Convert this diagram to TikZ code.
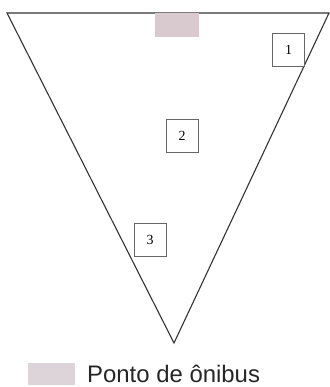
\documentclass[tikz,border=0pt]{standalone}
\usepackage{fontspec}
\setmainfont{Liberation Serif}
\newfontfamily\legendfont{Liberation Sans}
\definecolor{busgray}{HTML}{D8CACE}
\definecolor{legendgray}{HTML}{DDD4D9}
\definecolor{linegray}{HTML}{333333}
\definecolor{boxgray}{HTML}{666666}
\begin{document}
\begin{tikzpicture}[x=1bp,y=-1bp,
  tri/.style={draw=linegray,line width=1.1bp,line join=miter},
  numbox/.style={draw=boxgray,line width=0.7bp,fill=white,inner sep=0pt,minimum width=32bp,minimum height=33bp,font=\fontsize{14}{14}\selectfont},
  stop/.style={fill=busgray,draw=none}]
\useasboundingbox (0,0) rectangle (330,387);
\coordinate (tl) at (7,13);
\coordinate (tr) at (329,13);
\coordinate (bv) at (174,343);
\draw[tri] (tl) -- (tr) -- (bv) -- cycle;
\node[stop,minimum width=44bp,minimum height=24bp,inner sep=0pt] (bus) at (177,25) {};
\node[numbox] (n1) at (288.5,49.5) {1};
\node[numbox] (n2) at (182,136) {2};
\node[numbox] (n3) at (150,239.5) {3};
\node[fill=legendgray,minimum width=47bp,minimum height=22bp,inner sep=0pt] (leg) at (51.5,374) {};
\node[anchor=base west,inner sep=0pt,font=\legendfont\fontsize{24}{24}\selectfont,text=black!85] (legt) at (87,382) {Ponto de ônibus};
\end{tikzpicture}
\end{document}
